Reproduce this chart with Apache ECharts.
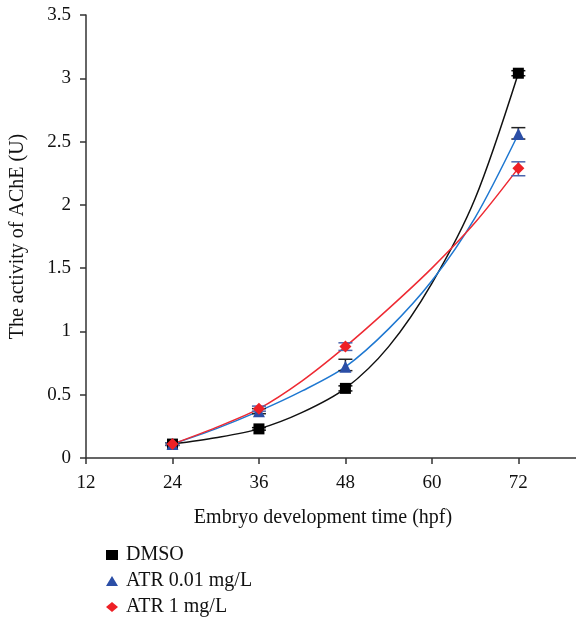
<!DOCTYPE html>
<html>
<head>
<meta charset="utf-8">
<script src="https://cdn.jsdelivr.net/npm/echarts@6/dist/echarts.min.js"></script>
<style>
  html, body { margin: 0; padding: 0; background: #fff; }
  #chart { width: 576px; height: 621px; }
</style>
</head>
<body>
<div id="chart"></div>
<script>
// measured time points (hpf)
var hours = [24, 36, 48, 72];
var dmso = [0.11, 0.23, 0.55, 3.04];
var atrLow = [0.11, 0.37, 0.72, 2.56];
var atrHigh = [0.11, 0.39, 0.88, 2.29];

// error bars [low, high] per point
var dmsoErr = [[0.10, 0.12], [0.22, 0.24], [0.53, 0.57], [3.02, 3.06]];
var atrLowErr = [[0.10, 0.12], [0.35, 0.39], [0.69, 0.78], [2.52, 2.61]];
var atrHighErr = [[0.10, 0.12], [0.37, 0.41], [0.85, 0.91], [2.23, 2.34]];

// fitted curves
var curveHours = [24, 30, 36, 42, 48, 54, 60, 66, 72];
var dmsoCurve = [0.11, 0.16, 0.23, 0.36, 0.55, 0.88, 1.38, 2.05, 3.04];
var atrLowCurve = [0.11, 0.23, 0.37, 0.53, 0.72, 1.02, 1.40, 1.90, 2.56];
var atrHighCurve = [0.11, 0.24, 0.39, 0.61, 0.88, 1.18, 1.50, 1.86, 2.29];

var xTicks = [12, 24, 36, 48, 60, 72];

function pairs(xs, ys) {
  return xs.map(function (x, i) { return [x, ys[i]]; });
}
function errData(xs, errs) {
  return xs.map(function (x, i) { return [x, errs[i][0], errs[i][1]]; });
}

function errorBar(name, data, color) {
  return {
    name: name + " err",
    type: "custom",
    z: 3,
    renderItem: function (params, api) {
      var x = api.value(0);
      var lo = api.coord([x, api.value(1)]);
      var hi = api.coord([x, api.value(2)]);
      var w = 7;
      var st = { stroke: color, lineWidth: 1.5 };
      return {
        type: "group",
        children: [
          { type: "line", shape: { x1: lo[0], y1: lo[1], x2: hi[0], y2: hi[1] }, style: st },
          { type: "line", shape: { x1: lo[0] - w, y1: lo[1], x2: lo[0] + w, y2: lo[1] }, style: st },
          { type: "line", shape: { x1: hi[0] - w, y1: hi[1], x2: hi[0] + w, y2: hi[1] }, style: st }
        ]
      };
    },
    encode: { x: 0, y: [1, 2] },
    data: data,
    silent: true
  };
}

function curve(name, ys, color) {
  return {
    name: name + " fit",
    type: "line",
    smooth: 0.3,
    showSymbol: false,
    z: 2,
    lineStyle: { color: color, width: 1.5 },
    data: pairs(curveHours, ys),
    silent: true
  };
}

var font = "Liberation Serif";

var chart = echarts.init(document.getElementById("chart"));
chart.setOption({
  animation: false,
  textStyle: { fontFamily: font },
  grid: { left: 84, top: 15, width: 495, height: 443 },
  legend: {
    orient: "vertical",
    left: 106,
    top: 545,
    padding: 0,
    itemGap: 6,
    itemWidth: 12,
    itemHeight: 10,
    data: ["DMSO", "ATR 0.01 mg/L", "ATR 1 mg/L"],
    textStyle: { fontFamily: font, fontSize: 20, lineHeight: 20, color: "#111", padding: [0, 0, 0, 3] }
  },
  xAxis: {
    type: "value",
    min: 12,
    max: 80,
    interval: 12,
    name: "Embryo development time (hpf)",
    nameLocation: "middle",
    nameGap: 50,
    nameTextStyle: { fontFamily: font, fontSize: 20, color: "#111", padding: [0, 16, 0, 0] },
    axisLine: { lineStyle: { color: "#333", width: 1.5 } },
    axisTick: { length: 6, lineStyle: { color: "#333", width: 1.5 } },
    axisLabel: {
      fontFamily: font, fontSize: 19, color: "#111", margin: 16,
      showMaxLabel: false,
      formatter: function (v) { return xTicks.indexOf(v) >= 0 ? String(v) : ""; }
    },
    splitLine: { show: false }
  },
  yAxis: {
    type: "value",
    min: 0,
    max: 3.5,
    interval: 0.5,
    name: "The activity of AChE (U)",
    nameLocation: "middle",
    nameGap: 58,
    nameTextStyle: { fontFamily: font, fontSize: 20, color: "#111" },
    axisLine: { show: true, lineStyle: { color: "#333", width: 1.5 } },
    axisTick: { show: true, length: 6, lineStyle: { color: "#333", width: 1.5 } },
    axisLabel: { fontFamily: font, fontSize: 19, color: "#111", margin: 15 },
    splitLine: { show: false }
  },
  series: [
    curve("DMSO", dmsoCurve, "#111111"),
    curve("ATR 0.01 mg/L", atrLowCurve, "#1f78d1"),
    curve("ATR 1 mg/L", atrHighCurve, "#ee2a33"),
    errorBar("DMSO", errData(hours, dmsoErr), "#111111"),
    errorBar("ATR 0.01 mg/L", errData(hours, atrLowErr), "#222222"),
    errorBar("ATR 1 mg/L", errData(hours, atrHighErr), "#4a64ad"),
    {
      name: "DMSO", type: "scatter", symbol: "rect", symbolSize: 11, z: 4,
      itemStyle: { color: "#000000", opacity: 1 },
      data: pairs(hours, dmso)
    },
    {
      name: "ATR 0.01 mg/L", type: "scatter", symbol: "triangle", symbolSize: 12, z: 5,
      itemStyle: { color: "#2b4ea6", opacity: 1 },
      data: pairs(hours, atrLow)
    },
    {
      name: "ATR 1 mg/L", type: "scatter", symbol: "diamond", symbolSize: 12, z: 6,
      itemStyle: { color: "#ee2026", opacity: 1 },
      data: pairs(hours, atrHigh)
    }
  ]
});
</script>
</body>
</html>
